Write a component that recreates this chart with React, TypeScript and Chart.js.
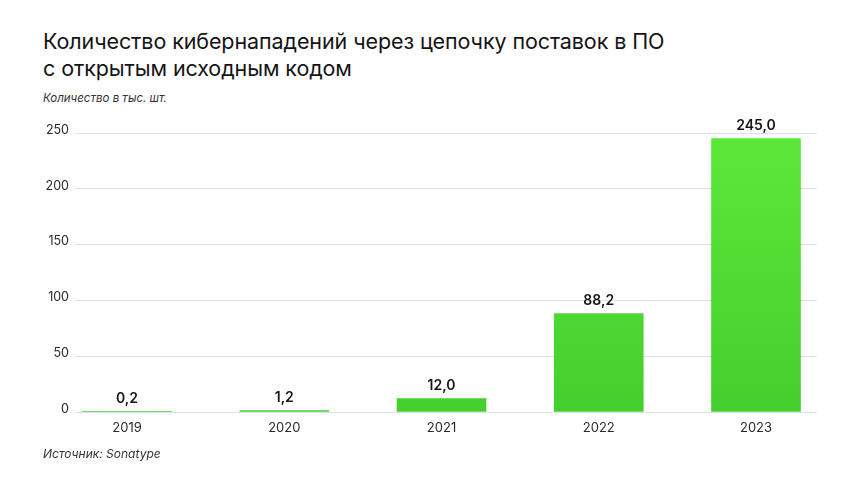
import React, { useEffect, useRef } from "react";
import { Chart, registerables } from "chart.js";

Chart.register(...registerables);

const years = ["2019", "2020", "2021", "2022", "2023"];
const values = [0.2, 1.2, 12.0, 88.2, 245.0];
const yTicks = [0, 50, 100, 150, 200, 250];

const titleLines = [
  "Количество кибернападений через цепочку поставок в ПО",
  "с открытым исходным кодом",
];
const unitLabel = "Количество в тыс. шт.";
const sourceLabel = "Источник: Sonatype";

const FONT = "Inter, 'Noto Sans', sans-serif";

const valueLabels = {
  id: "valueLabels",
  afterDatasetsDraw(chart: any) {
    const ctx = chart.ctx;
    const meta = chart.getDatasetMeta(0);
    ctx.save();
    ctx.fillStyle = "#151515";
    ctx.font = `600 14px ${FONT}`;
    ctx.textAlign = "center";
    ctx.textBaseline = "bottom";
    meta.data.forEach((bar: any, i: number) => {
      const txt = values[i].toFixed(1).replace(".", ",");
      ctx.fillText(txt, bar.x, bar.y - 6);
    });
    ctx.restore();
  },
};

export default function App() {
  const ref = useRef<HTMLCanvasElement | null>(null);
  useEffect(() => {
    if (!ref.current) return;
    const chart = new Chart(ref.current, {
      type: "bar",
      data: {
        datasets: [
          {
            data: values.map((v, i) => ({ x: i, y: v })),
            barThickness: 89,
            backgroundColor: (c: any) => {
              const area = c.chart.chartArea;
              if (!area) return "#50dc34";
              const g = c.chart.ctx.createLinearGradient(0, area.top, 0, area.bottom);
              g.addColorStop(0, "#5ce83a");
              g.addColorStop(1, "#44cf2e");
              return g;
            },
            borderWidth: 0,
          },
        ],
      },
      options: {
        responsive: false,
        animation: false,
        layout: { padding: { left: 0, right: 43, top: 133, bottom: 44 } },
        plugins: {
          legend: { display: false },
          tooltip: { enabled: false },
          title: { display: false },
        },
        scales: {
          x: {
            type: "linear",
            offset: false,
            bounds: "data",
            min: -0.331,
            max: 4.388,
            grid: { display: false },
            border: { display: false },
            afterBuildTicks: (s: any) => {
              s.ticks = years.map((_, i) => ({ value: i }));
            },
            afterFit: (s: any) => {
              s.height = 28;
            },
            ticks: {
              padding: 0,
              color: "#2a2a2a",
              font: { family: FONT, size: 13 },
              callback: (v: any) => years[v] ?? "",
              maxRotation: 0,
              autoSkip: false,
            },
          },
          y: {
            min: 0,
            max: 250,
            afterBuildTicks: (s: any) => {
              s.ticks = yTicks.map((v) => ({ value: v }));
            },
            afterFit: (s: any) => {
              s.width = 75;
            },
            grid: { color: "#dce3e6", lineWidth: 1, drawTicks: false },
            border: { display: false },
            ticks: {
              padding: 6,
              labelOffset: -3,
              color: "#2a2a2a",
              font: { family: FONT, size: 12.5 },
            },
          },
        },
      },
      plugins: [valueLabels],
    } as any);
    return () => chart.destroy();
  }, []);

  return (
    <div style={{ position: "fixed", left: 0, top: 0, width: 860, height: 484, background: "#fff", fontFamily: FONT }}>
      <div style={{ position: "absolute", left: 43, top: 28, fontSize: 21.5, lineHeight: "27px", color: "#141414", fontWeight: 400, letterSpacing: -0.1 }}>
        {titleLines.map((l, i) => (
          <div key={i}>{l}</div>
        ))}
      </div>
      <div style={{ position: "absolute", left: 43, top: 91, fontSize: 11.5, fontStyle: "italic", color: "#333" }}>{unitLabel}</div>
      <canvas ref={ref} width={860} height={484} style={{ position: "absolute", left: 0, top: 0 }} />
      <div style={{ position: "absolute", left: 43, top: 446, fontSize: 12, fontStyle: "italic", color: "#333" }}>{sourceLabel}</div>
    </div>
  );
}
